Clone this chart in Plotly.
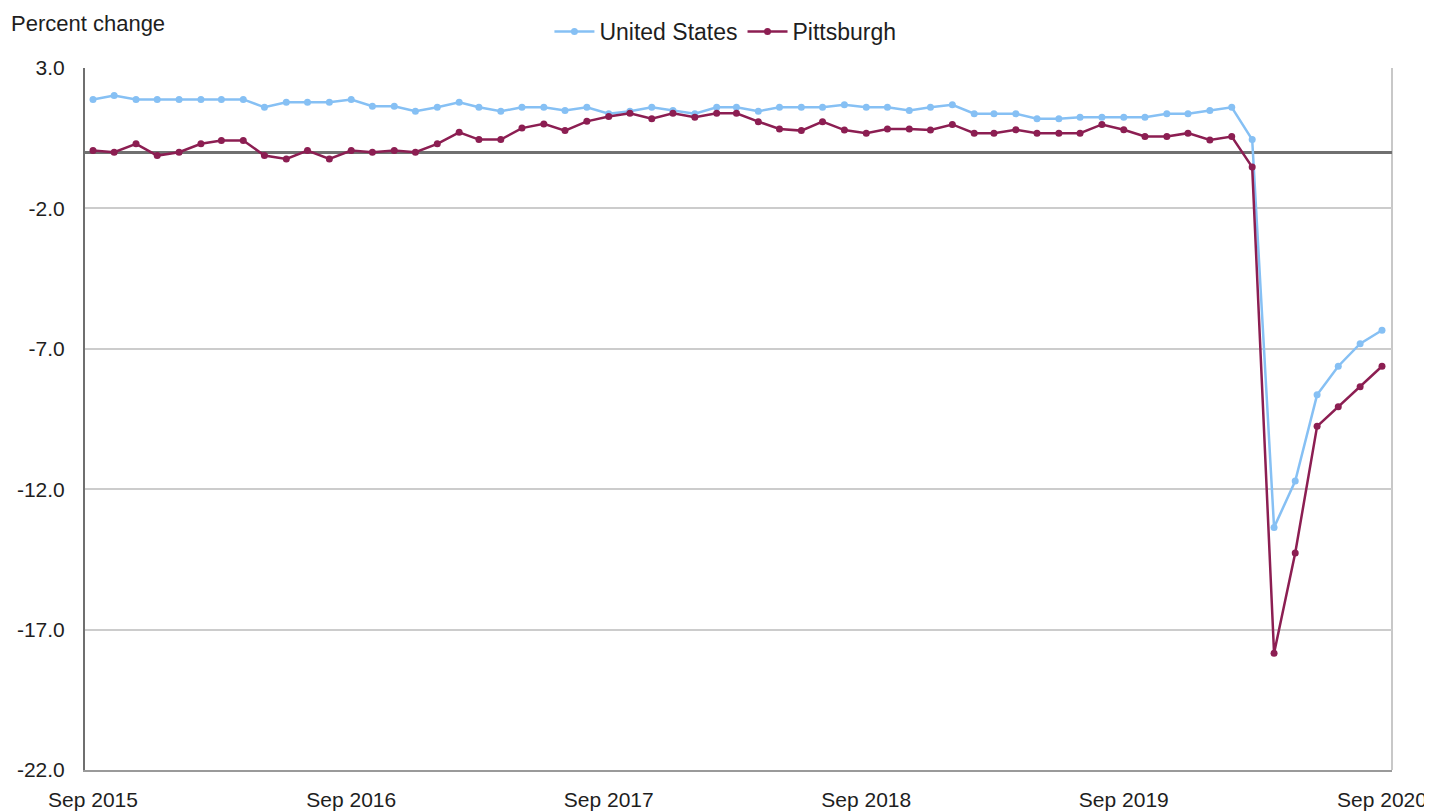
import pandas as pd
import plotly.graph_objects as go

months = pd.date_range("2015-09-01", "2020-09-01", freq="MS").strftime("%Y-%m-%d").tolist()

us_values = [1.88, 2.02, 1.88, 1.88, 1.88, 1.88, 1.88, 1.88, 1.60, 1.78,
             1.78, 1.78, 1.88, 1.64, 1.64, 1.46, 1.60, 1.78, 1.60, 1.46,
             1.60, 1.60, 1.49, 1.60, 1.37, 1.46, 1.60, 1.49, 1.37, 1.60,
             1.60, 1.46, 1.60, 1.60, 1.60, 1.69, 1.60, 1.60, 1.49, 1.60,
             1.69, 1.37, 1.37, 1.37, 1.19, 1.19, 1.25, 1.25, 1.25, 1.25,
             1.37, 1.37, 1.49, 1.60, 0.45, -13.36, -11.71, -8.64, -7.62, -6.82,
             -6.34]

pittsburgh_values = [0.06, 0.00, 0.30, -0.12, 0.00, 0.30, 0.42, 0.42, -0.12, -0.24,
                     0.06, -0.24, 0.06, 0.00, 0.06, 0.00, 0.30, 0.71, 0.45, 0.45,
                     0.86, 1.01, 0.77, 1.10, 1.27, 1.39, 1.19, 1.39, 1.25, 1.39,
                     1.39, 1.09, 0.83, 0.77, 1.09, 0.79, 0.68, 0.83, 0.83, 0.79,
                     0.99, 0.68, 0.68, 0.80, 0.68, 0.68, 0.68, 0.99, 0.80, 0.56,
                     0.56, 0.68, 0.44, 0.56, -0.53, -17.84, -14.27, -9.76, -9.06, -8.35,
                     -7.62]

y_ticks = [3.0, -2.0, -7.0, -12.0, -17.0, -22.0]
y_tick_labels = ["3.0", "-2.0", "-7.0", "-12.0", "-17.0", "-22.0"]
x_tick_dates = ["2015-09-01", "2016-09-01", "2017-09-01", "2018-09-01", "2019-09-01", "2020-09-01"]
x_tick_labels = ["Sep 2015", "Sep 2016", "Sep 2017", "Sep 2018", "Sep 2019", "Sep 2020"]

US_COLOR = "#86C0F4"
PIT_COLOR = "#8C1E52"
FONT = "Liberation Sans, Arial, sans-serif"
TEXT = "#1e1e1e"

fig = go.Figure()
fig.add_trace(go.Scatter(x=months, y=us_values, name="United States", mode="lines+markers",
                         line=dict(color=US_COLOR, width=2.5),
                         marker=dict(color=US_COLOR, size=7)))
fig.add_trace(go.Scatter(x=months, y=pittsburgh_values, name="Pittsburgh", mode="lines+markers",
                         line=dict(color=PIT_COLOR, width=2.5),
                         marker=dict(color=PIT_COLOR, size=7)))

# page body adds an 8px offset, so the figure is 8px smaller and margins shifted
fig.update_layout(
    width=1424, height=804,
    margin=dict(l=77, r=40, t=60, b=42, autoexpand=False),
    paper_bgcolor="white", plot_bgcolor="white",
    font=dict(family=FONT, size=20, color=TEXT),
    showlegend=True,
    legend=dict(orientation="h", x=0.49, xanchor="center", y=1.052, yanchor="middle",
                font=dict(size=23, color=TEXT), itemwidth=40, bgcolor="rgba(0,0,0,0)"),
    annotations=[dict(text="Percent change", xref="paper", yref="paper",
                      x=-0.058, y=1.063, xanchor="left", yanchor="middle",
                      showarrow=False, font=dict(size=22, color=TEXT))],
)

fig.update_xaxes(
    type="date", range=["2015-08-20 16:00", "2020-09-15 04:00"],
    tickvals=x_tick_dates, ticktext=x_tick_labels, ticks="",
    showgrid=False, showline=True, linecolor="#9a9a9a", linewidth=2,
    zeroline=False, tickfont=dict(size=21, color=TEXT), ticklabelstandoff=10,
    mirror=False,
)
fig.update_yaxes(
    range=[-22, 3], tickvals=y_ticks, ticktext=y_tick_labels, ticks="",
    showgrid=True, gridcolor="#cccccc", gridwidth=2,
    showline=True, linecolor="#6f6f6f", linewidth=2,
    zeroline=True, zerolinecolor="#707070", zerolinewidth=3,
    tickfont=dict(size=21, color=TEXT), ticklabelstandoff=14,
)

fig.add_shape(type="line", xref="paper", yref="paper", x0=1, x1=1, y0=0, y1=1,
              line=dict(color="#c8c8c8", width=2), layer="below")

fig.write_html("out.html")
